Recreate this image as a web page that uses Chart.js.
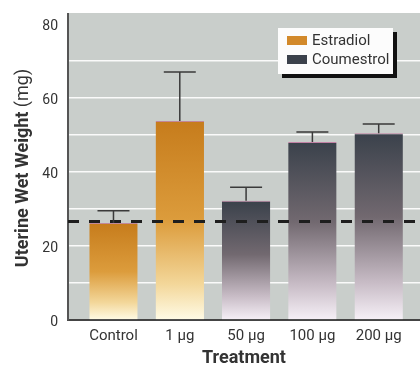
<!DOCTYPE html>
<html>
<head>
<meta charset="utf-8">
<script src="https://cdn.jsdelivr.net/npm/chart.js@4.4.1/dist/chart.umd.min.js"></script>
<style>
  html, body { margin: 0; padding: 0; background: #fff; }
</style>
</head>
<body>
<canvas id="grafikUterus" width="420" height="366"></canvas>
<script>
const treatments = ['Control', '1 \u00b5g', '50 \u00b5g', '100 \u00b5g', '200 \u00b5g'];
const estradiolX = [0, 1];
const estradiolMean = [26.2, 53.8];
const estradiolSE = [3.3, 13.2];
const coumestrolX = [2, 3, 4];
const coumestrolMean = [32.2, 48.1, 50.5];
const coumestrolSE = [3.7, 2.7, 2.5];
const controlLevel = 26.6;
const yTickLabels = [0, 20, 40, 60, 80];
const yTitleBold = 'Uterine Wet Weight ';
const yTitleUnit = '(mg)';
const xTitle = 'Treatment';

const FONT = "Roboto, 'Liberation Sans', sans-serif";
const TEXT = '#333333';

function toPoints(xs, ys) {
    return xs.map((x, i) => ({ x: x, y: ys[i] }));
}

function barFill(stops, fallback) {
    return ctx => {
        const chart = ctx.chart;
        if (!chart.chartArea || !ctx.parsed) return fallback;
        const y = chart.scales.y;
        const top = y.getPixelForValue(ctx.parsed.y);
        const bottom = y.getPixelForValue(0);
        const g = chart.ctx.createLinearGradient(0, top, 0, bottom);
        stops.forEach(s => g.addColorStop(s[0], s[1]));
        return g;
    };
}

// white page, gray plot panel (runs a little above the 80 line)
const plotBg = {
    id: 'plotBg',
    beforeDraw(chart) {
        const { ctx, chartArea: a } = chart;
        ctx.save();
        ctx.fillStyle = '#ffffff';
        ctx.fillRect(0, 0, chart.width, chart.height);
        ctx.fillStyle = '#c9cecb';
        ctx.fillRect(a.left, a.top - 11, a.right - a.left, a.bottom - a.top + 11);
        ctx.strokeStyle = '#555';
        ctx.lineWidth = 2;
        ctx.beginPath();
        ctx.moveTo(a.left, a.top - 11);
        ctx.lineTo(a.left, a.top + 1);
        ctx.stroke();
        ctx.restore();
    }
};

// error bars, upper half only (bar hides the rest)
const errorBars = {
    id: 'errorBars',
    afterDatasetsDraw(chart) {
        const { ctx } = chart;
        const y = chart.scales.y;
        ctx.save();
        ctx.strokeStyle = '#3a3a3a';
        ctx.lineWidth = 1.5;
        chart.data.datasets.forEach((ds, di) => {
            if (!ds.se) return;
            const meta = chart.getDatasetMeta(di);
            meta.data.forEach((bar, i) => {
                const top = y.getPixelForValue(ds.data[i].y + ds.se[i]);
                ctx.beginPath();
                ctx.moveTo(bar.x, bar.y);
                ctx.lineTo(bar.x, top);
                ctx.moveTo(bar.x - 16, top);
                ctx.lineTo(bar.x + 16, top);
                ctx.stroke();
            });
        });
        ctx.restore();
    }
};

// boxed legend with drop shadow, top right inside plot
const boxLegend = {
    id: 'boxLegend',
    afterDraw(chart) {
        const { ctx, chartArea: a } = chart;
        const items = chart.data.datasets.filter(ds => ds.swatch);
        const x = a.right - 142, y = a.top + 4, w = 115, h = 46;
        ctx.save();
        ctx.fillStyle = '#111';
        ctx.fillRect(x + 4, y + 4, w, h);
        ctx.fillStyle = '#fcfcfc';
        ctx.fillRect(x, y, w, h);
        ctx.font = '15px ' + FONT;
        ctx.textBaseline = 'middle';
        ctx.textAlign = 'left';
        items.forEach((ds, i) => {
            const rowY = y + 13 + i * 19;
            ctx.fillStyle = ds.swatch;
            ctx.fillRect(x + 9, rowY - 5, 20, 9);
            ctx.fillStyle = TEXT;
            ctx.fillText(ds.label, x + 34, rowY);
        });
        ctx.restore();
    }
};

// y title: bold words, regular unit
const yTitle = {
    id: 'yTitle',
    afterDraw(chart) {
        const { ctx, chartArea: a } = chart;
        const bold = 'bold 18px ' + FONT;
        const norm = '18px ' + FONT;
        ctx.save();
        ctx.translate(23, (a.top + a.bottom) / 2 - 4);
        ctx.rotate(-Math.PI / 2);
        ctx.fillStyle = TEXT;
        ctx.textBaseline = 'middle';
        ctx.textAlign = 'left';
        ctx.font = bold;
        const w1 = ctx.measureText(yTitleBold).width;
        ctx.font = norm;
        const w2 = ctx.measureText(yTitleUnit).width;
        const x0 = -(w1 + w2) / 2;
        ctx.font = bold;
        ctx.fillText(yTitleBold, x0, 0);
        ctx.font = norm;
        ctx.fillText(yTitleUnit, x0 + w1, 0);
        ctx.restore();
    }
};

const xMin = -0.686, xMax = 4.623;

new Chart(document.getElementById('grafikUterus').getContext('2d'), {
    data: {
        datasets: [{
            type: 'line',
            label: 'Control level',
            data: [{ x: xMin, y: controlLevel }, { x: xMax, y: controlLevel }],
            borderColor: '#1e1e1e',
            borderWidth: 3,
            borderDash: [11, 10],
            pointRadius: 0,
            order: 0
        }, {
            type: 'bar',
            label: 'Estradiol',
            data: toPoints(estradiolX, estradiolMean),
            se: estradiolSE,
            swatch: '#d2892a',
            backgroundColor: barFill([[0, '#c67c1c'], [0.5, '#dc9c3c'], [0.82, '#f3d79a'], [1, '#fffbe6']], '#d2892a'),
            borderColor: 'rgba(190, 90, 120, 0.6)',
            borderWidth: { top: 1, left: 0, right: 0, bottom: 0 },
            barPercentage: 0.73,
            categoryPercentage: 1,
            grouped: false,
            order: 1
        }, {
            type: 'bar',
            label: 'Coumestrol',
            data: toPoints(coumestrolX, coumestrolMean),
            se: coumestrolSE,
            swatch: '#3b414b',
            backgroundColor: barFill([[0, '#3a414b'], [0.45, '#726970'], [0.8, '#c8bcc6'], [1, '#f6f0f7']], '#3b414b'),
            borderColor: 'rgba(190, 80, 140, 0.6)',
            borderWidth: { top: 1, left: 0, right: 0, bottom: 0 },
            barPercentage: 0.73,
            categoryPercentage: 1,
            grouped: false,
            order: 1
        }]
    },
    options: {
        responsive: false,
        animation: false,
        devicePixelRatio: 1,
        layout: { padding: { top: 24, right: 0, bottom: 0, left: 0 } },
        plugins: {
            legend: { display: false },
            tooltip: { enabled: false }
        },
        scales: {
            x: {
                type: 'linear',
                min: xMin,
                max: xMax,
                offset: false,
                afterFit: s => { s.height = 46; },
                grid: { display: false, drawTicks: false },
                border: { color: '#444', width: 2 },
                ticks: {
                    stepSize: 1,
                    includeBounds: false,
                    autoSkip: false,
                    maxRotation: 0,
                    padding: 7,
                    color: TEXT,
                    font: { family: FONT, size: 15 },
                    callback: v => (Number.isInteger(v) && treatments[v] !== undefined) ? treatments[v] : ''
                },
                title: {
                    display: true,
                    text: xTitle,
                    color: TEXT,
                    padding: 0,
                    font: { family: FONT, size: 18, weight: 'bold', lineHeight: 0.8 }
                }
            },
            y: {
                min: 0,
                max: 80,
                afterFit: s => { s.width = 68; },
                grid: {
                    drawTicks: false,
                    lineWidth: 1.5,
                    color: c => (c.tick.value > 0 && c.tick.value < 80) ? 'rgba(255,255,255,0.9)' : 'rgba(0,0,0,0)'
                },
                border: { color: '#555', width: 2 },
                ticks: {
                    stepSize: 10,
                    autoSkip: false,
                    padding: 10,
                    labelOffset: 2,
                    color: TEXT,
                    font: { family: FONT, size: 14 },
                    callback: v => yTickLabels.includes(v) ? v : ''
                }
            }
        }
    },
    plugins: [plotBg, errorBars, boxLegend, yTitle]
});
</script>
</body>
</html>
